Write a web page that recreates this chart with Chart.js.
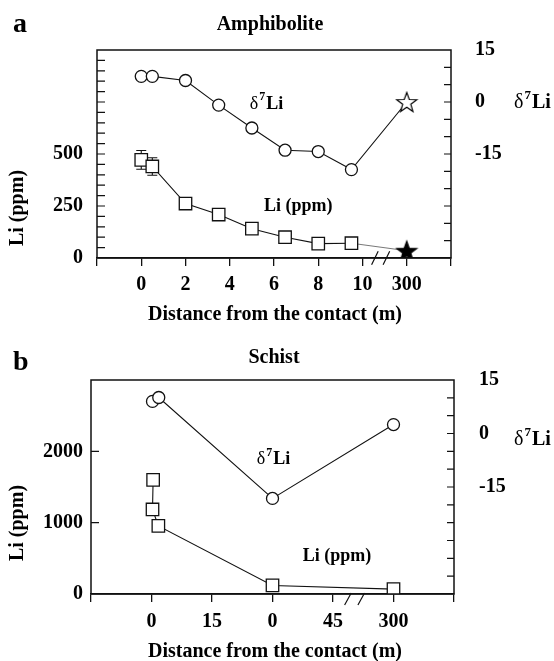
<!DOCTYPE html>
<html>
<head>
<meta charset="utf-8">
<script src="https://cdn.jsdelivr.net/npm/chart.js@4.4.1/dist/chart.umd.min.js"></script>
<style>
    html, body { margin: 0; padding: 0; background: #fff; }
    #wrap { position: relative; width: 554px; height: 661px; }
    canvas { position: absolute; left: 0; }
    #graficoA { top: 0; }
    #graficoB { top: 330px; }
</style>
</head>
<body>
<div id="wrap">
    <canvas id="graficoA" width="554" height="330"></canvas>
    <canvas id="graficoB" width="554" height="331"></canvas>
</div>
<script>
// panel a - Amphibolite
const distA = [0, 0.5, 2, 3.5, 5, 6.5, 8, 9.5, 300]
const d7LiA = [7.4, 7.4, 6.2, -0.9, -7.5, -13.9, -14.3, -19.5, 0]
const liA = [472, 440, 262, 209, 141, 100, 69, 71, 35]
const errLiA = [45, 42, 0, 0, 0, 0, 0, 0, 0]
const etiquetasXA = ['0', '2', '4', '6', '8', '10', '300']
const ticksLiA = [0, 250, 500]

// panel b - Schist
const distD7B = [0.25, 1.8, 30, 300]
const d7LiB = [9.0, 10.1, -18.2, 2.5]
const distLiB = [0.4, 0.25, 1.7, 30, 300]
const liB = [1600, 1185, 955, 120, 68]
const etiquetasXB = ['0', '15', '0', '45', '300']
const ticksLiB = [0, 1000, 2000]

const ticksD7 = [-15, 0, 15]

const FUENTE = '"Liberation Serif", "Times New Roman", serif'

// eje con corte: 300 m se dibuja justo despues del corte
const posA = d => d >= 300 ? 12 : d
const posB = d => d >= 300 ? 60 : d
const puntos = (xs, ys, pos) => xs.map((d, i) => ({ x: pos(d), y: ys[i] }))

function hacerEstrella(relleno) {
    const c = document.createElement('canvas')
    c.width = 24
    c.height = 24
    const g = c.getContext('2d')
    g.beginPath()
    for (let i = 0; i < 10; i++) {
        const r = i % 2 ? 4.3 : 10.5
        const a = -Math.PI / 2 + i * Math.PI / 5
        g.lineTo(12 + r * Math.cos(a), 13 + r * Math.sin(a))
    }
    g.closePath()
    g.fillStyle = relleno
    g.fill()
    g.lineWidth = 1.2
    g.strokeStyle = '#000'
    g.stroke()
    return c
}

const estrellaBlanca = hacerEstrella('#fff')
const estrellaNegra = hacerEstrella('#000')

function dibujarDelta(ctx, x, y, t) {
    ctx.textAlign = 'left'
    ctx.textBaseline = 'alphabetic'
    ctx.font = `${t}px ${FUENTE}`
    ctx.fillText('δ', x, y)
    let w = ctx.measureText('δ').width + 1
    ctx.font = `bold ${Math.round(t * 0.65)}px ${FUENTE}`
    ctx.fillText('7', x + w, y - t * 0.45)
    w += ctx.measureText('7').width + 1
    ctx.font = `bold ${t}px ${FUENTE}`
    ctx.fillText('Li', x + w, y)
}

const panelPlugin = {
    id: 'panel',
    beforeDatasetsDraw(chart, args, o) {
        const { ctx, scales } = chart
        ctx.save()
        ctx.strokeStyle = '#111'
        ctx.lineWidth = 1.1
        ;(o.errores || []).forEach(e => {
            if (!e.err) return
            const x = scales.x.getPixelForValue(e.x)
            const y1 = scales.yLi.getPixelForValue(e.y - e.err)
            const y2 = scales.yLi.getPixelForValue(e.y + e.err)
            ctx.beginPath()
            ctx.moveTo(x, y1); ctx.lineTo(x, y2)
            ctx.moveTo(x - 5, y1); ctx.lineTo(x + 5, y1)
            ctx.moveTo(x - 5, y2); ctx.lineTo(x + 5, y2)
            ctx.stroke()
        })
        ctx.restore()
    },
    afterDraw(chart, args, o) {
        const { ctx, chartArea: a, scales } = chart
        ctx.save()
        ctx.strokeStyle = '#111'
        ctx.lineWidth = 1.5
        ctx.strokeRect(a.left, a.top, a.right - a.left, a.bottom - a.top)

        // ticks hacia dentro
        ctx.lineWidth = 1.2
        ctx.beginPath()
        for (let v = o.menorLi; v < scales.yLi.max; v += o.menorLi) {
            const y = scales.yLi.getPixelForValue(v)
            ctx.moveTo(a.left, y); ctx.lineTo(a.left + 8, y)
        }
        for (let v = scales.yD7.min + 5; v < scales.yD7.max; v += 5) {
            const y = scales.yD7.getPixelForValue(v)
            ctx.moveTo(a.right - 7, y); ctx.lineTo(a.right, y)
        }
        ctx.stroke()

        // corte del eje
        ctx.beginPath()
        o.corte.forEach(c => {
            const x = scales.x.getPixelForValue(c)
            ctx.moveTo(x - 3.3, a.bottom + o.corteAbajo)
            ctx.lineTo(x + 3.3, a.bottom - o.corteArriba)
        })
        ctx.stroke()

        ctx.fillStyle = '#000'
        ctx.textAlign = 'left'
        ctx.textBaseline = 'alphabetic'
        ctx.font = `bold 28px ${FUENTE}`
        ctx.fillText(o.letra, 13, o.letraY)

        ctx.textAlign = 'center'
        ctx.font = `bold 20px ${FUENTE}`
        ctx.fillText(o.titulo, o.tituloX, o.tituloY)
        ctx.fillText('Distance from the contact (m)', 275, o.xTituloY)

        ctx.save()
        ctx.translate(18, o.yTituloY)
        ctx.rotate(-Math.PI / 2)
        ctx.textBaseline = 'middle'
        ctx.fillText('Li (ppm)', 0, 0)
        ctx.restore()

        dibujarDelta(ctx, 514, o.derTituloY, 20)

        // etiquetas dentro del grafico
        dibujarDelta(ctx, scales.x.getPixelForValue(o.notaD7.x), scales.yD7.getPixelForValue(o.notaD7.y), 18)
        ctx.textAlign = 'left'
        ctx.textBaseline = 'middle'
        ctx.font = `bold 18px ${FUENTE}`
        ctx.fillText('Li (ppm)', scales.x.getPixelForValue(o.notaLi.x), scales.yLi.getPixelForValue(o.notaLi.y))
        ctx.restore()
    }
}

function crearPanel(canvas, p) {
    const fuenteTicks = { family: FUENTE, size: 20, weight: 'bold' }
    const ultimo = p.puntosLi.length - 1
    return new Chart(canvas, {
        type: 'scatter',
        data: {
            datasets: [
                {
                    label: 'δ7Li',
                    data: p.puntosD7,
                    yAxisID: 'yD7',
                    showLine: true,
                    borderColor: '#111',
                    borderWidth: 1.1,
                    pointStyle: p.estilosD7,
                    pointRadius: p.radiosD7,
                    pointBackgroundColor: '#fff',
                    pointBorderColor: '#111',
                    pointBorderWidth: 1.3
                },
                {
                    label: 'Li (ppm)',
                    data: p.puntosLi,
                    yAxisID: 'yLi',
                    showLine: true,
                    borderColor: '#111',
                    borderWidth: 1.1,
                    pointStyle: p.estilosLi,
                    pointRadius: p.radiosLi,
                    pointBackgroundColor: '#fff',
                    pointBorderColor: '#111',
                    pointBorderWidth: 1.3,
                    segment: {
                        borderColor: c => p.ultimoGris && c.p1DataIndex === ultimo ? '#555' : undefined,
                        borderWidth: c => p.ultimoGris && c.p1DataIndex === ultimo ? 0.8 : undefined
                    }
                }
            ]
        },
        options: {
            responsive: false,
            animation: false,
            layout: { padding: { top: 50, left: 0, right: 0, bottom: 0 } },
            plugins: {
                legend: { display: false },
                tooltip: { enabled: false },
                panel: p.textos
            },
            scales: {
                x: {
                    type: 'linear',
                    position: 'bottom',
                    min: p.xMin,
                    max: p.xMax,
                    afterFit: s => { s.height = p.altoX },
                    ticks: {
                        stepSize: p.xPaso,
                        autoSkip: false,
                        maxRotation: 0,
                        padding: p.padX,
                        color: '#000',
                        font: fuenteTicks,
                        callback: v => {
                            const i = v / p.xPaso
                            return i >= 0 && i < p.etiquetasX.length ? p.etiquetasX[i] : ''
                        }
                    },
                    grid: { drawOnChartArea: false, drawTicks: true, tickLength: 8, color: '#111', lineWidth: 1.3 },
                    border: { display: true, color: '#111', width: 1.5 }
                },
                yLi: {
                    type: 'linear',
                    position: 'left',
                    min: 0,
                    max: p.liMax,
                    afterFit: s => { s.width = p.anchoIzq },
                    ticks: {
                        stepSize: p.liPaso,
                        autoSkip: false,
                        padding: p.padIzq,
                        color: '#000',
                        font: fuenteTicks,
                        callback: v => p.ticksLi.includes(v) ? String(v) : ''
                    },
                    grid: { display: false, drawTicks: false },
                    border: { display: false }
                },
                yD7: {
                    type: 'linear',
                    position: 'right',
                    min: -45,
                    max: 15,
                    afterFit: s => { s.width = p.anchoDer },
                    ticks: {
                        stepSize: 15,
                        autoSkip: false,
                        padding: p.padDer,
                        color: '#000',
                        font: fuenteTicks,
                        callback: v => ticksD7.includes(v) ? String(v) : ''
                    },
                    grid: { display: false, drawTicks: false },
                    border: { display: false }
                }
            }
        },
        plugins: [panelPlugin]
    })
}

crearPanel(document.getElementById('graficoA'), {
    puntosD7: puntos(distA, d7LiA, posA),
    puntosLi: puntos(distA, liA, posA),
    estilosD7: distA.map(d => d >= 300 ? estrellaBlanca : 'circle'),
    radiosD7: distA.map(d => d >= 300 ? 11 : 6),
    estilosLi: distA.map(d => d >= 300 ? estrellaNegra : 'rect'),
    radiosLi: distA.map(d => d >= 300 ? 11 : 8.8),
    ultimoGris: true,
    xMin: -2, xMax: 14, xPaso: 2, etiquetasX: etiquetasXA, padX: 7, altoX: 72,
    liMax: 1000, liPaso: 250, ticksLi: ticksLiA, padIzq: 14, anchoIzq: 97,
    padDer: 24, anchoDer: 103,
    textos: {
        letra: 'a', letraY: 32,
        titulo: 'Amphibolite', tituloX: 270, tituloY: 30,
        xTituloY: 320, yTituloY: 208, derTituloY: 108,
        menorLi: 50,
        corte: [10.56, 11.08], corteAbajo: 6.7, corteArriba: 6.7,
        notaD7: { x: 4.9, y: -1.9 },
        notaLi: { x: 5.55, y: 250 },
        errores: distA.map((d, i) => ({ x: posA(d), y: liA[i], err: errLiA[i] }))
    }
})

crearPanel(document.getElementById('graficoB'), {
    puntosD7: puntos(distD7B, d7LiB, posB),
    puntosLi: puntos(distLiB, liB, posB),
    estilosD7: 'circle',
    radiosD7: 6,
    estilosLi: 'rect',
    radiosLi: 8.8,
    ultimoGris: false,
    xMin: -15, xMax: 75, xPaso: 15, etiquetasX: etiquetasXB, padX: 8, altoX: 67,
    liMax: 3000, liPaso: 1000, ticksLi: ticksLiB, padIzq: 8, anchoIzq: 91,
    padDer: 25, anchoDer: 100,
    textos: {
        letra: 'b', letraY: 40,
        titulo: 'Schist', tituloX: 274, tituloY: 33,
        xTituloY: 327, yTituloY: 193, derTituloY: 115,
        menorLi: 1000,
        corte: [48.7, 52.0], corteAbajo: 11, corteArriba: 1,
        notaD7: { x: 26.1, y: -8.6 },
        notaLi: { x: 37.5, y: 534 },
        errores: []
    }
})
</script>
</body>
</html>
